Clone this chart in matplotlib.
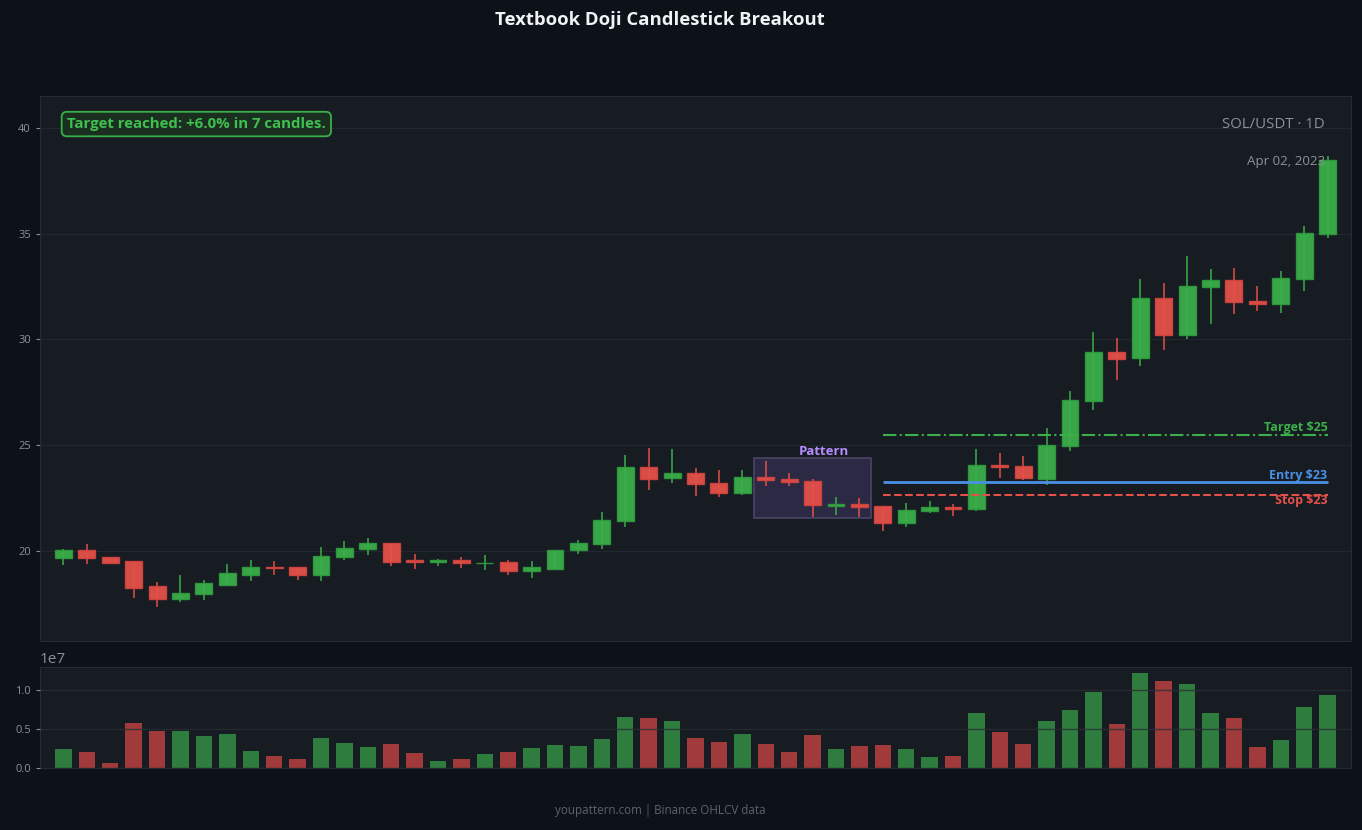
import matplotlib
matplotlib.use("Agg")
import matplotlib.pyplot as plt
from matplotlib.patches import Rectangle
import numpy as np

plt.rcParams['font.family'] = ['Open Sans', 'DejaVu Sans']

# OHLCV (55 daily candles)
opens = [19.65, 20.02, 19.69, 19.50, 18.32, 17.74, 17.93, 18.40, 18.87, 19.21,
         19.22, 18.83, 19.69, 20.07, 20.35, 19.55, 19.45, 19.55, 19.40, 19.46,
         19.06, 19.16, 20.02, 20.31, 21.40, 23.95, 23.43, 23.67, 23.19, 22.72,
         23.48, 23.38, 23.29, 22.12, 22.20, 22.11, 21.31, 21.87, 22.06, 21.97,
         24.04, 24.00, 23.41, 24.95, 27.07, 29.39, 29.11, 31.94, 30.19, 32.46,
         32.83, 31.80, 31.66, 32.85, 34.97]
highs = [20.07, 20.32, 19.70, 19.52, 18.52, 18.85, 18.62, 19.38, 19.56, 19.52,
         19.24, 20.18, 20.46, 20.61, 20.37, 19.85, 19.62, 19.71, 19.80, 19.56,
         19.52, 20.04, 20.51, 21.84, 24.53, 24.86, 24.82, 23.92, 23.82, 23.82,
         24.25, 23.68, 23.38, 22.55, 22.50, 22.13, 22.26, 22.36, 22.20, 24.82,
         24.63, 24.48, 25.79, 27.56, 30.35, 30.07, 32.86, 32.67, 33.95, 33.33,
         33.38, 32.53, 33.24, 35.36, 38.68]
lows = [19.33, 19.38, 19.38, 17.77, 17.34, 17.58, 17.67, 18.38, 18.57, 18.85,
        18.62, 18.57, 19.56, 19.80, 19.28, 19.14, 19.28, 19.19, 19.09, 18.85,
        18.71, 19.09, 19.85, 20.08, 21.13, 22.88, 23.21, 22.59, 22.54, 22.64,
        23.08, 23.08, 21.61, 21.69, 21.61, 20.95, 21.14, 21.77, 21.65, 21.88,
        23.44, 23.35, 23.11, 24.74, 26.67, 28.08, 28.76, 29.51, 30.00, 30.74,
        31.22, 31.36, 31.26, 32.30, 34.81]
closes = [20.02, 19.65, 19.44, 18.26, 17.74, 17.99, 18.46, 18.94, 19.22, 19.17,
          18.83, 19.74, 20.12, 20.35, 19.48, 19.46, 19.54, 19.41, 19.43, 19.06,
          19.22, 20.02, 20.35, 21.44, 23.95, 23.38, 23.67, 23.15, 22.72, 23.48,
          23.35, 23.25, 22.15, 22.20, 22.07, 21.31, 21.92, 22.06, 21.97, 24.04,
          23.95, 23.43, 24.99, 27.12, 29.39, 29.06, 31.94, 30.19, 32.51, 32.83,
          31.75, 31.68, 32.89, 35.02, 38.47]
volumes = [0.24, 0.20, 0.064, 0.57, 0.48, 0.48, 0.41, 0.44, 0.22, 0.15,
           0.11, 0.38, 0.32, 0.27, 0.31, 0.19, 0.089, 0.11, 0.18, 0.20,
           0.25, 0.29, 0.28, 0.37, 0.65, 0.64, 0.60, 0.39, 0.33, 0.44,
           0.31, 0.20, 0.42, 0.24, 0.28, 0.29, 0.24, 0.14, 0.15, 0.70,
           0.46, 0.31, 0.60, 0.74, 0.97, 0.56, 1.22, 1.12, 1.07, 0.70,
           0.64, 0.27, 0.36, 0.78, 0.93]
volumes = [v * 1e7 for v in volumes]

pattern_start, pattern_end = 30, 34
entry_price = 23.25
stop_price = 22.65
target_price = 25.48
symbol = "SOL/USDT · 1D"
last_date = "Apr 02, 2023"

BG = '#0d1118'
PANEL = '#171b22'
GREEN = '#3aaf4a'
RED = '#e5504a'
GREY = '#8b929b'

o = np.array(opens)
h = np.array(highs)
l = np.array(lows)
c = np.array(closes)
x = np.arange(len(o))
up = c >= o

fig = plt.figure(figsize=(13.62, 8.3), dpi=100, facecolor=BG)
ax = fig.add_axes([0.0294, 0.2277, 0.9625, 0.6566])
axv = fig.add_axes([0.0294, 0.0747, 0.9625, 0.1217], sharex=ax)

for a in (ax, axv):
    a.set_facecolor(PANEL)
    for s in a.spines.values():
        s.set_color('#272c34')
    a.tick_params(colors=GREY, labelsize=8, length=3)
    a.grid(axis='y', color='#222730', linewidth=0.8)
    a.set_axisbelow(True)

# candles
colors = np.where(up, GREEN, RED)
edge = np.where(up, '#2f9a3e', '#d0443e')
ax.vlines(x, l, h, colors=colors, linewidth=1.1, zorder=2)
body_lo = np.minimum(o, c)
body_h = np.maximum(np.abs(c - o), 0.02)
ax.bar(x, body_h, bottom=body_lo, width=0.72, color=colors, edgecolor=edge,
       linewidth=1.0, alpha=0.95, zorder=3)

# pattern box
p_lo = l[pattern_start:pattern_end + 1].min() - 0.08
p_hi = h[pattern_start:pattern_end + 1].max() + 0.12
ax.add_patch(Rectangle((pattern_start - 0.5, p_lo), pattern_end - pattern_start + 1, p_hi - p_lo,
                       facecolor='#6a55a8', alpha=0.25, edgecolor='none', zorder=1))
ax.add_patch(Rectangle((pattern_start - 0.5, p_lo), pattern_end - pattern_start + 1, p_hi - p_lo,
                       facecolor='none', edgecolor='#4b4468', linewidth=1.2, zorder=1))
ax.text((pattern_start + pattern_end + 1) / 2, p_hi + 0.0, 'Pattern', color='#b48cff',
        fontsize=9.5, fontweight='bold', ha='center', va='bottom')

# trade levels
lx0, lx1 = pattern_end + 1, len(o) - 1
ax.hlines(target_price, lx0, lx1, colors='#3aaf4a', linestyles='-.', linewidth=1.5, zorder=4)
ax.hlines(entry_price, lx0, lx1, colors='#4a90e2', linestyles='-', linewidth=2.0, zorder=4)
ax.hlines(stop_price, lx0, lx1, colors='#e5504a', linestyles='--', linewidth=1.5, zorder=4)
ax.text(lx1, target_price + 0.03, 'Target $%.0f' % target_price, color='#3aaf4a',
        fontsize=9, fontweight='bold', ha='right', va='bottom')
ax.text(lx1, entry_price + 0.02, 'Entry $%.0f' % entry_price, color='#4a90e2',
        fontsize=9, fontweight='bold', ha='right', va='bottom')
ax.text(lx1, stop_price + 0.03, 'Stop $%.0f' % stop_price, color='#e5504a',
        fontsize=9, fontweight='bold', ha='right', va='top')

# annotations
ax.text(0.0205, 0.9486, 'Target reached: +6.0% in 7 candles.', transform=ax.transAxes,
        color='#3fbf50', fontsize=10.8, fontweight='bold', ha='left', va='center',
        bbox=dict(boxstyle='round,pad=0.35', facecolor='#1b2f20', edgecolor='#3aaf4a', linewidth=1.3))
ax.text(0.980, 0.9486, symbol, transform=ax.transAxes, color=GREY, fontsize=10.8,
        ha='right', va='center')
ax.text(0.980, 0.879, last_date, transform=ax.transAxes, color=GREY, fontsize=9.6,
        ha='right', va='center')

rng = h.max() - l.min()
ax.set_ylim(l.min() - 0.0755 * rng, h.max() + 0.133 * rng)
ax.set_xlim(-1, len(o))
ax.set_yticks([20, 25, 30, 35, 40])
ax.tick_params(axis='x', bottom=False, labelbottom=False)

# volume
vcol = np.where(up, '#2e7d3e', '#a13a3a')
axv.bar(x, volumes, width=0.7, color=vcol, zorder=2)
axv.set_ylim(0, max(volumes) * 1.06)
axv.set_yticks([0, 0.5e7, 1.0e7])
axv.yaxis.get_offset_text().set_color(GREY)
axv.yaxis.get_offset_text().set_fontsize(11)
axv.tick_params(axis='x', bottom=False, labelbottom=False)
axv.grid(axis='y', color='#2a2f37', linewidth=1.0, alpha=0.8, zorder=3)
axv.set_axisbelow(False)

fig.text(0.4846, 0.976, 'Textbook Doji Candlestick Breakout', color='#f0f3f6',
         fontsize=13.3, fontweight='bold', ha='center', va='center')
fig.text(0.4846, 0.024, 'youpattern.com | Binance OHLCV data', color='#5c636c',
         fontsize=8.4, ha='center', va='center')

fig.savefig('out.png', dpi=100, facecolor=BG)
